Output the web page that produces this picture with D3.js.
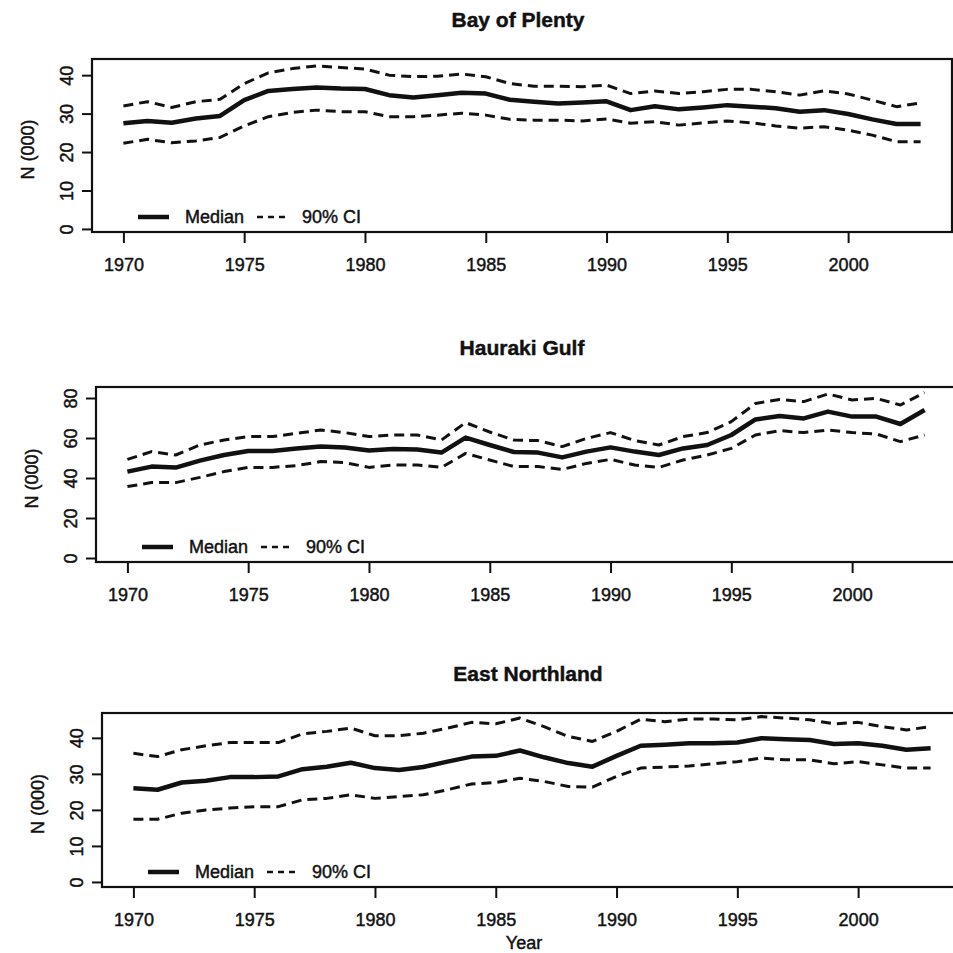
<!DOCTYPE html>
<html>
<head>
<meta charset="utf-8">
<script src="https://cdn.jsdelivr.net/npm/d3@7"></script>
<style>
  body { margin: 0; background: #fff; }
  svg text {
    font-family: "Liberation Sans", Arial, Helvetica, sans-serif;
    fill: #111; stroke: #111; stroke-width: 0.45px;
  }
</style>
</head>
<body>
<svg id="chart" width="953" height="953"></svg>
<script>
// ---- data -------------------------------------------------------------
const years = [1970, 1971, 1972, 1973, 1974, 1975, 1976, 1977, 1978, 1979,
               1980, 1981, 1982, 1983, 1984, 1985, 1986, 1987, 1988, 1989,
               1990, 1991, 1992, 1993, 1994, 1995, 1996, 1997, 1998, 1999,
               2000, 2001, 2002, 2003];
const xTickYears = [1970, 1975, 1980, 1985, 1990, 1995, 2000];
const regions = ["Bay of Plenty", "Hauraki Gulf", "East Northland"];

// Bay of Plenty, N (000)
const bopMedian = [27.5, 28.1, 27.6, 28.7, 29.4, 33.5, 35.9, 36.4, 36.8, 36.5,
                   36.4, 34.8, 34.2, 34.8, 35.4, 35.2, 33.6, 33.1, 32.6, 32.9,
                   33.2, 30.9, 31.9, 31.1, 31.6, 32.2, 31.8, 31.4, 30.5, 30.9,
                   29.9, 28.5, 27.3, 27.3];
const bopUpper  = [32.0, 33.1, 31.6, 33.1, 33.7, 37.8, 40.6, 41.7, 42.4, 42.0,
                   41.6, 40.0, 39.6, 39.7, 40.3, 39.6, 37.8, 37.1, 37.1, 37.0,
                   37.4, 35.2, 35.9, 35.2, 35.7, 36.3, 36.3, 35.7, 34.8, 35.9,
                   35.1, 33.5, 31.8, 32.8];
const bopLower  = [22.3, 23.3, 22.4, 22.9, 23.8, 26.8, 29.2, 30.3, 30.9, 30.5,
                   30.5, 29.2, 29.2, 29.6, 30.1, 29.6, 28.5, 28.3, 28.3, 28.1,
                   28.6, 27.5, 27.9, 27.0, 27.6, 28.1, 27.6, 26.8, 26.2, 26.6,
                   25.7, 24.4, 22.7, 22.7];

// Hauraki Gulf, N (000)
const hgMedian = [43.2, 45.7, 45.2, 48.7, 51.5, 53.5, 53.5, 54.8, 55.7, 55.3,
                  53.7, 54.5, 54.3, 52.7, 60.2, 56.5, 53.0, 52.7, 50.3, 53.2,
                  55.3, 53.2, 51.5, 54.8, 56.5, 61.5, 69.3, 71.0, 69.8, 73.2,
                  70.7, 70.7, 67.0, 74.0];
const hgUpper  = [49.3, 53.2, 51.5, 56.5, 59.0, 60.7, 60.7, 62.3, 64.0, 62.7,
                  60.7, 61.5, 61.5, 59.0, 67.7, 63.0, 59.0, 58.7, 55.7, 59.8,
                  62.7, 58.7, 56.5, 60.7, 62.7, 68.2, 77.3, 79.3, 78.2, 82.0,
                  79.0, 79.8, 76.5, 82.7];
const hgLower  = [35.7, 37.7, 37.7, 40.3, 43.2, 45.3, 45.3, 46.2, 48.2, 47.7,
                  45.3, 46.5, 46.5, 45.3, 52.3, 49.0, 45.7, 45.7, 44.3, 47.3,
                  49.3, 46.5, 45.3, 49.0, 51.5, 54.8, 61.5, 63.7, 62.7, 64.0,
                  62.7, 62.0, 58.2, 61.5];

// East Northland, N (000)
const enMedian = [26.0, 25.6, 27.6, 28.1, 29.1, 29.1, 29.3, 31.3, 32.0, 33.1,
                  31.6, 31.1, 31.9, 33.4, 34.8, 35.0, 36.5, 34.6, 33.0, 32.0,
                  35.0, 37.8, 38.1, 38.5, 38.5, 38.7, 39.9, 39.6, 39.4, 38.3,
                  38.5, 37.8, 36.7, 37.1];
const enUpper  = [35.7, 34.8, 36.7, 37.8, 38.7, 38.7, 38.7, 41.1, 41.8, 42.7,
                  40.6, 40.6, 41.3, 42.7, 44.3, 43.9, 45.5, 43.1, 40.4, 39.0,
                  41.8, 45.2, 44.5, 45.2, 45.2, 45.0, 45.9, 45.5, 45.0, 43.9,
                  44.3, 43.1, 42.2, 43.1];
const enLower  = [17.4, 17.4, 19.1, 20.0, 20.5, 20.9, 20.9, 22.8, 23.2, 24.2,
                  23.2, 23.7, 24.2, 25.6, 27.2, 27.6, 28.8, 27.9, 26.5, 26.3,
                  29.3, 31.6, 31.9, 32.2, 32.8, 33.4, 34.4, 33.9, 33.9, 32.8,
                  33.4, 32.5, 31.6, 31.6];

const bopYTicks = [0, 10, 20, 30, 40];
const hgYTicks  = [0, 20, 40, 60, 80];
const enYTicks  = [0, 10, 20, 30, 40];

const legendLabels = ["Median", "90% CI"];
const xAxisTitle = "Year";
const yAxisTitle = "N (000)";

// ---- layout -----------------------------------------------------------
const boxWidth = 860;
const xDomain = [1968.7, 2004.3];
const panels = [
  { title: regions[0], median: bopMedian, upper: bopUpper, lower: bopLower,
    yTicks: bopYTicks, left: 92, top: 59, height: 173, yDomain: [-0.8, 44.2] },
  { title: regions[1], median: hgMedian, upper: hgUpper, lower: hgLower,
    yTicks: hgYTicks, left: 96, top: 387, height: 175, yDomain: [-2, 85.5] },
  { title: regions[2], median: enMedian, upper: enUpper, lower: enLower,
    yTicks: enYTicks, left: 102, top: 713, height: 174, yDomain: [-1.4, 46.9] }
];

const FONT = 18;
const svg = d3.select("#chart");

panels.forEach(p => {
  const g = svg.append("g").attr("transform", `translate(${p.left},${p.top})`);
  const x = d3.scaleLinear().domain(xDomain).range([0, boxWidth]);
  const y = d3.scaleLinear().domain(p.yDomain).range([p.height, 0]);

  // plot frame
  g.append("rect")
    .attr("width", boxWidth).attr("height", p.height)
    .attr("fill", "none").attr("stroke", "#111").attr("stroke-width", 2.2);

  // x axis
  const xAxis = g.append("g")
    .attr("transform", `translate(0,${p.height})`)
    .call(d3.axisBottom(x).tickValues(xTickYears).tickFormat(d3.format("d"))
            .tickSize(11).tickPadding(15));
  xAxis.select(".domain").remove();
  xAxis.selectAll("line").attr("stroke", "#111").attr("stroke-width", 2);
  xAxis.selectAll("text").attr("font-size", FONT).attr("fill", "#111")
    .style("font-family", "'Liberation Sans', Arial, sans-serif");

  // y axis with labels turned parallel to the axis
  const yAxis = g.append("g")
    .call(d3.axisLeft(y).tickValues(p.yTicks).tickSize(10));
  yAxis.select(".domain").remove();
  yAxis.selectAll("line").attr("stroke", "#111").attr("stroke-width", 2);
  yAxis.selectAll("text")
    .attr("x", null).attr("dy", "0.35em")
    .attr("text-anchor", "middle")
    .attr("transform", "translate(-25,0) rotate(-90)")
    .attr("font-size", FONT).attr("fill", "#111")
    .style("font-family", "'Liberation Sans', Arial, sans-serif");

  // y axis title
  g.append("text")
    .attr("transform", `translate(-64,${p.height / 2 + 4}) rotate(-90)`)
    .attr("dy", "0.35em").attr("text-anchor", "middle")
    .attr("font-size", FONT).text(yAxisTitle);

  // panel title
  g.append("text")
    .attr("x", boxWidth / 2 - 4).attr("y", -32)
    .attr("text-anchor", "middle").attr("font-size", 21).attr("font-weight", "bold")
    .text(p.title);

  // series
  const line = vals => d3.line()
    .x((d, i) => x(years[i]))
    .y(d => y(d))(vals);

  [p.lower, p.upper].forEach(vals => {
    g.append("path").attr("d", line(vals))
      .attr("fill", "none").attr("stroke", "#111").attr("stroke-width", 3)
      .attr("stroke-dasharray", "10,6").attr("stroke-linejoin", "round");
  });
  g.append("path").attr("d", line(p.median))
    .attr("fill", "none").attr("stroke", "#111").attr("stroke-width", 4.5)
    .attr("stroke-linejoin", "round");

  // legend
  const ly = p.height - 15;
  const lg = g.append("g");
  lg.append("line").attr("x1", 46).attr("x2", 77).attr("y1", ly).attr("y2", ly)
    .attr("stroke", "#111").attr("stroke-width", 4.5);
  lg.append("text").attr("x", 93).attr("y", ly).attr("dy", "0.36em")
    .attr("font-size", FONT).text(legendLabels[0]);
  lg.append("line").attr("x1", 165).attr("x2", 198).attr("y1", ly).attr("y2", ly)
    .attr("stroke", "#111").attr("stroke-width", 2.5).attr("stroke-dasharray", "6,5");
  lg.append("text").attr("x", 210).attr("y", ly).attr("dy", "0.36em")
    .attr("font-size", FONT).text(legendLabels[1]);
});

// shared x axis title under the last panel
const last = panels[panels.length - 1];
svg.append("text")
  .attr("x", last.left + boxWidth / 2 - 8).attr("y", 949)
  .attr("text-anchor", "middle").attr("font-size", FONT)
  .text(xAxisTitle);
</script>
</body>
</html>
